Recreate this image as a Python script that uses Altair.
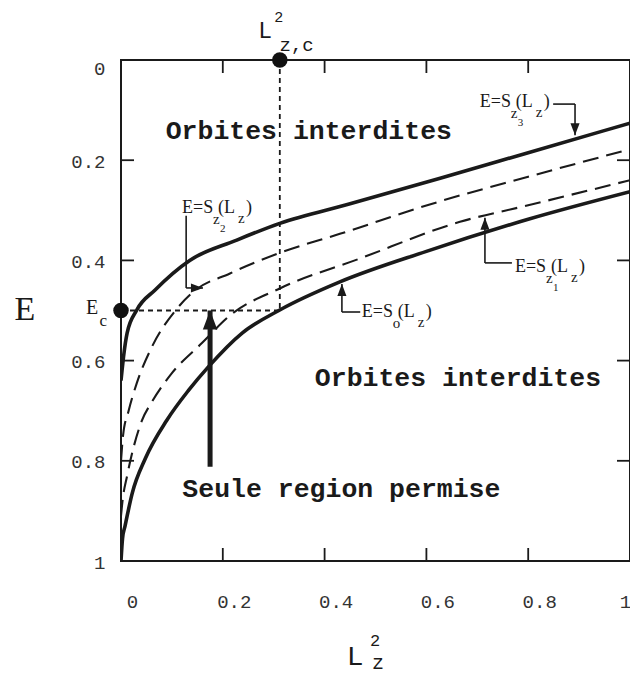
import altair as alt
import pandas as pd

# ---------------- data ----------------
# curves E = S(L_z^2)
s3_x = [0.0, 0.002, 0.005, 0.012, 0.031, 0.067, 0.135, 0.226, 0.312, 0.45, 0.627, 0.8, 1.0]
s3_e = [0.64, 0.62, 0.592, 0.545, 0.499, 0.459, 0.40, 0.36, 0.326, 0.287, 0.236, 0.185, 0.126]
s2_x = [0.0, 0.004, 0.015, 0.031, 0.061, 0.107, 0.143, 0.214, 0.312, 0.43, 0.627, 0.8, 1.0]
s2_e = [0.80, 0.75, 0.70, 0.645, 0.572, 0.50, 0.462, 0.426, 0.385, 0.347, 0.282, 0.233, 0.178]
s1_x = [0.0, 0.003, 0.012, 0.041, 0.061, 0.1, 0.159, 0.214, 0.312, 0.47, 0.666, 0.8, 1.0]
s1_e = [0.91, 0.88, 0.83, 0.72, 0.682, 0.625, 0.565, 0.51, 0.456, 0.396, 0.323, 0.29, 0.24]
s0_x = [0.0, 0.003, 0.008, 0.022, 0.048, 0.09, 0.133, 0.172, 0.238, 0.312, 0.43, 0.6, 0.8, 1.0]
s0_e = [1.0, 0.955, 0.93, 0.865, 0.795, 0.719, 0.659, 0.612, 0.545, 0.499, 0.443, 0.382, 0.318, 0.263]

solid_curves = ["S3", "S0"]
dashed_curves = ["S2", "S1"]

tick_values = [0, 0.2, 0.4, 0.6, 0.8, 1]
inner_ticks = [0.2, 0.4, 0.6, 0.8]

# critical point
lzc = 0.312
ec = 0.5
dot_x = [0.0, lzc]
dot_e = [ec, 0.0]

# label anchors (left edge of "E", baseline)
lab_x = [0.705, 0.120, 0.774, 0.473]
lab_e = [0.094, 0.305, 0.423, 0.513]
lab_sub = ["z", "z", "z", "o"]
lab_idx = ["3", "2", "1", ""]

# leader lines of the labels
seg_x = [0.849, 0.892, 0.128, 0.128, 0.715, 0.715, 0.434, 0.434]
seg_e = [0.088, 0.088, 0.311, 0.455, 0.405, 0.405, 0.503, 0.503]
seg_x2 = [0.892, 0.892, 0.128, 0.161, 0.715, 0.768, 0.434, 0.470]
seg_e2 = [0.088, 0.15, 0.455, 0.455, 0.315, 0.405, 0.447, 0.503]

# arrow heads
head_x = [0.892, 0.161, 0.715, 0.434]
head_e = [0.15, 0.455, 0.315, 0.447]
head_dir = ["down", "right", "up", "up"]

# big arrow
big_x = [0.175]
big_e = [0.812]
big_tip = [0.5]

# region texts
reg_text = ["Orbites interdites", "Orbites interdites", "Seule region permise"]
reg_x = [0.369, 0.662, 0.433]
reg_e = [0.142, 0.635, 0.857]

# axis titles / point labels
serif_t = ["E", "E", "c"]
serif_x = [-0.189, -0.057, -0.035]
serif_e = [0.499, 0.495, 0.521]
serif_size = [34, 20, 17]
mono_t = ["L", "2", "z,c", "L", "2", "z"]
mono_x = [0.283, 0.310, 0.345, 0.46, 0.499, 0.505]
mono_e = [-0.058, -0.086, -0.030, 1.192, 1.160, 1.203]
mono_size = [23, 15, 19, 28, 17, 20]

# ---------------- build tables ----------------
rows = []
for name, xs, es in [("S3", s3_x, s3_e), ("S2", s2_x, s2_e), ("S1", s1_x, s1_e), ("S0", s0_x, s0_e)]:
    for i, (a, b) in enumerate(zip(xs, es)):
        rows.append({"curve": name, "i": i, "x": a, "e": b})
curves = pd.DataFrame(rows)

INK = "#1a1a1a"
W, H = 509, 501
TL = 13

xscale = alt.Scale(domain=[0, 1], nice=False, zero=False)
yscale = alt.Scale(domain=[0, 1], nice=False, zero=False, reverse=True)

xaxis = alt.Axis(values=tick_values, format="~g", title=None, ticks=False, tickSize=0, domain=False, grid=False,
                 labelFont="Liberation Mono", labelFontSize=19, labelColor="#333",
                 labelPadding=31, labelFlush=False,
                 labelOffset={"condition": {"test": "datum.value == 1", "value": -5}, "value": 11})
yaxis = alt.Axis(values=tick_values, format="~g", title=None, ticks=False, tickSize=0, domain=False, grid=False,
                 labelFont="Liberation Mono", labelFontSize=19, labelColor="#333",
                 labelPadding=16, labelFlush=False,
                 labelOffset={"condition": {"test": "datum.value == 0", "value": 8}, "value": 1})

X = alt.X("x:Q", scale=xscale, axis=xaxis)
Y = alt.Y("e:Q", scale=yscale, axis=yaxis)

base = alt.Chart(curves)

solid = base.transform_filter(alt.FieldOneOfPredicate(field="curve", oneOf=solid_curves)).mark_line(
    clip=True, interpolate="monotone", strokeWidth=3.6, color=INK
).encode(x=X, y=Y, detail="curve:N", order="i:Q")

dashed = base.transform_filter(alt.FieldOneOfPredicate(field="curve", oneOf=dashed_curves)).mark_line(
    clip=True, interpolate="monotone", strokeWidth=2.1, color=INK, strokeDash=[16, 8]
).encode(x=X, y=Y, detail="curve:N", order="i:Q")

# dotted guides
guides = alt.Chart(pd.DataFrame({
    "x": [lzc, 0.0], "e": [0.0, ec], "x2": [lzc, lzc], "e2": [ec, ec]
})).mark_rule(strokeWidth=1.8, color=INK, strokeDash=[5, 4]).encode(
    x=X, y=Y, x2="x2:Q", y2="e2:Q")

dots = alt.Chart(pd.DataFrame({"x": dot_x, "e": dot_e})).mark_point(
    filled=True, size=240, color="#111", opacity=1, clip=False
).encode(x=X, y=Y)

# inward ticks on all four sides
tdf = pd.DataFrame({"x": inner_ticks, "e": inner_ticks})
tick_b = alt.Chart(tdf).mark_rule(strokeWidth=1.8, color=INK).encode(x=X, y=alt.value(H), y2=alt.value(H - TL))
tick_t = alt.Chart(tdf).mark_rule(strokeWidth=1.8, color=INK).encode(x=X, y=alt.value(0), y2=alt.value(TL))
tick_l = alt.Chart(tdf).mark_rule(strokeWidth=1.8, color=INK).encode(y=Y, x=alt.value(0), x2=alt.value(TL))
tick_r = alt.Chart(tdf).mark_rule(strokeWidth=1.8, color=INK).encode(y=Y, x=alt.value(W), x2=alt.value(W - TL))

# leader lines
segs = alt.Chart(pd.DataFrame({"x": seg_x, "e": seg_e, "x2": seg_x2, "e2": seg_e2})).mark_rule(
    strokeWidth=1.6, color=INK).encode(x=X, y=Y, x2="x2:Q", y2="e2:Q")

UP = "M0,0L-0.38,1L0.38,1Z"
DOWN = "M0,0L-0.38,-1L0.38,-1Z"
RIGHT = "M0,0L-1,-0.38L-1,0.38Z"
hdf = pd.DataFrame({"x": head_x, "e": head_e, "dir": head_dir})
heads = alt.Chart(hdf).mark_point(filled=True, size=576, color=INK, opacity=1, clip=False).encode(
    x=X, y=Y,
    shape=alt.Shape("dir:N", scale=alt.Scale(domain=["up", "down", "right"], range=[UP, DOWN, RIGHT]), legend=None))

bigdf = pd.DataFrame({"x": big_x, "e": big_e, "e2": big_tip})
big_line = alt.Chart(bigdf).mark_rule(strokeWidth=5, color=INK).encode(x=X, y=Y, y2="e2:Q")
big_head = alt.Chart(bigdf).mark_point(filled=True, size=1444, color=INK, opacity=1, shape=UP).encode(
    x=X, y=alt.Y("e2:Q", scale=yscale, axis=yaxis))

# region texts
regions = alt.Chart(pd.DataFrame({"t": reg_text, "x": reg_x, "e": reg_e})).mark_text(
    font="Liberation Mono", fontWeight="bold", fontSize=26.5, align="center", baseline="middle", color=INK
).encode(x=X, y=Y, text="t:N")

# curve labels E=S_z_k(L_z)
ldf = pd.DataFrame({"x": lab_x, "e": lab_e, "sub": lab_sub, "idx": lab_idx,
                    "m1": ["E=S"] * 4, "m2": ["(L"] * 4, "m3": [")"] * 4, "zz": ["z"] * 4})
lbase = alt.Chart(ldf)
SERIF = "Liberation Serif"
lab_layers = [
    lbase.mark_text(font=SERIF, fontSize=18, align="left", baseline="alphabetic", color=INK).encode(x=X, y=Y, text="m1:N"),
    lbase.mark_text(font=SERIF, fontSize=18, align="left", baseline="alphabetic", color=INK, dx=36).encode(x=X, y=Y, text="m2:N"),
    lbase.mark_text(font=SERIF, fontSize=18, align="left", baseline="alphabetic", color=INK, dx=64).encode(x=X, y=Y, text="m3:N"),
    lbase.mark_text(font=SERIF, fontSize=15, align="left", baseline="alphabetic", color=INK, dx=31, dy=11).encode(x=X, y=Y, text="sub:N"),
    lbase.mark_text(font=SERIF, fontSize=11, align="left", baseline="alphabetic", color=INK, dx=38, dy=19).encode(x=X, y=Y, text="idx:N"),
    lbase.mark_text(font=SERIF, fontSize=15, align="left", baseline="alphabetic", color=INK, dx=56, dy=10).encode(x=X, y=Y, text="zz:N"),
]

serif_titles = alt.Chart(pd.DataFrame({"t": serif_t, "x": serif_x, "e": serif_e, "s": serif_size})).mark_text(
    font="Liberation Serif", align="center", baseline="middle", color=INK
).encode(x=X, y=Y, text="t:N", size=alt.Size("s:Q", scale=None, legend=None))
mono_titles = alt.Chart(pd.DataFrame({"t": mono_t, "x": mono_x, "e": mono_e, "s": mono_size})).mark_text(
    font="Liberation Mono", align="center", baseline="middle", color=INK
).encode(x=X, y=Y, text="t:N", size=alt.Size("s:Q", scale=None, legend=None))

chart = alt.layer(
    solid, dashed, guides, tick_b, tick_t, tick_l, tick_r, segs, heads, big_line, big_head,
    regions, *lab_layers, serif_titles, mono_titles, dots
).properties(
    width=W, height=H,
    background="white",
    autosize=alt.AutoSizeParams(type="none"),
    padding={"left": 113, "top": 52, "right": 0, "bottom": 113},
).configure_view(stroke=INK, strokeWidth=2)

chart.save("out.html", embed_options={"renderer": "svg", "actions": False})
